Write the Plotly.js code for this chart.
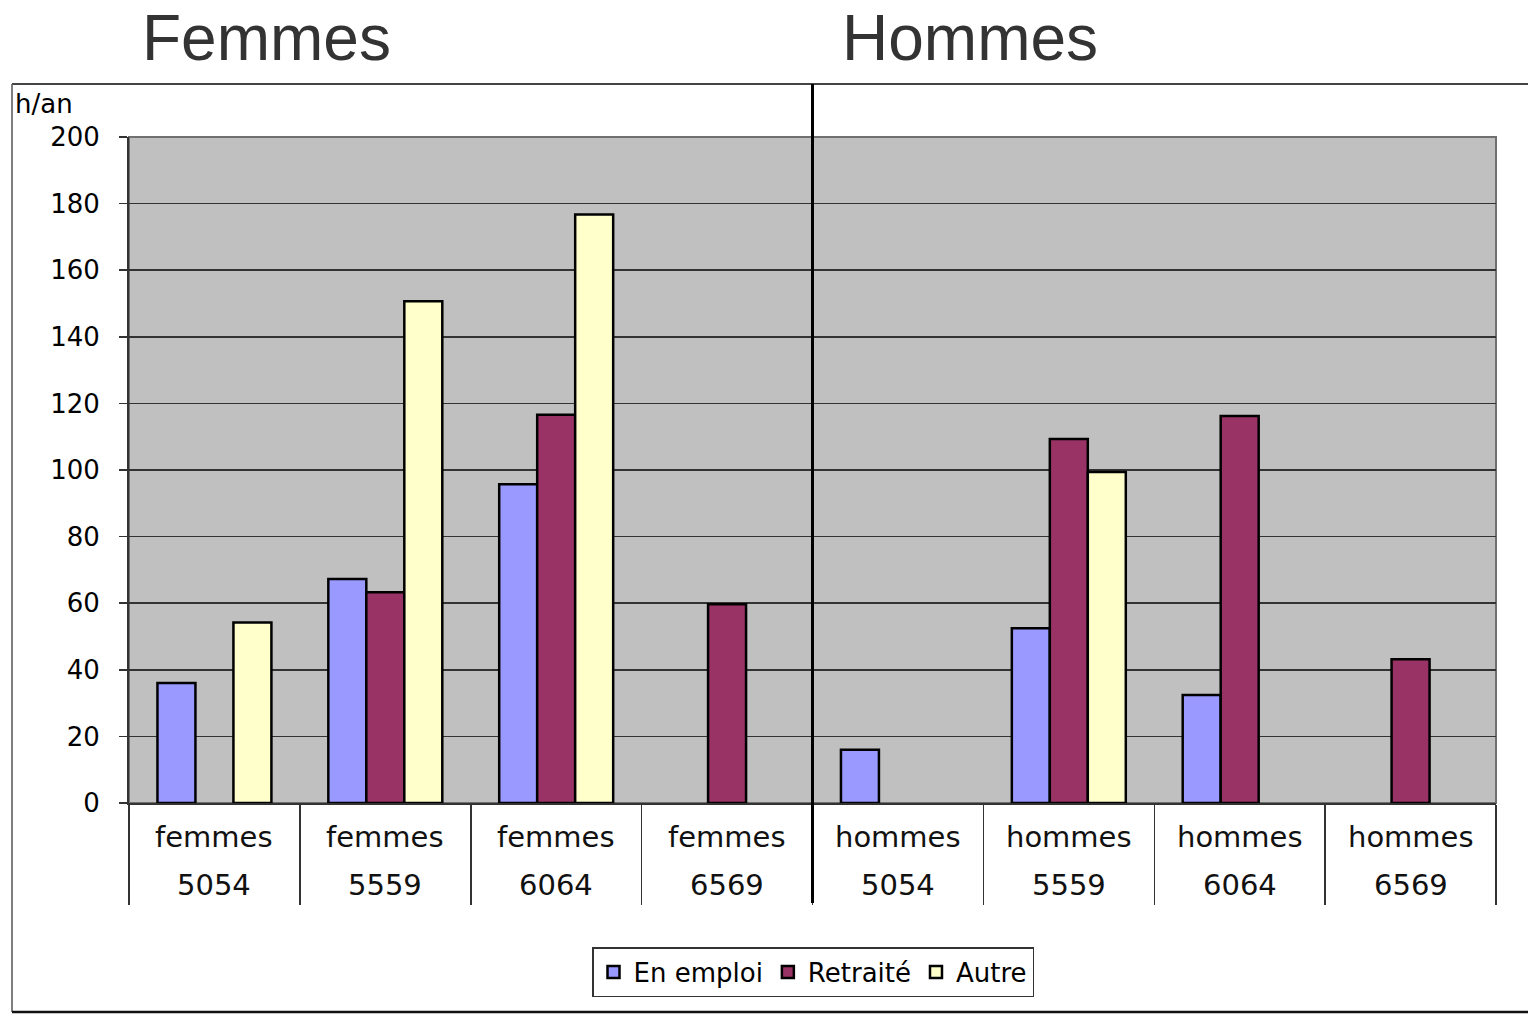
<!DOCTYPE html>
<html>
<head>
<meta charset="utf-8">
<script src="https://cdn.plot.ly/plotly-3.0.1.min.js"></script>
<style>html,body{margin:0;padding:0;background:#fff;}#chart{width:1528px;height:1016px;}</style>
</head>
<body>
<div id="chart"></div>
<script>
// ---- data ----
const groups = ['femmes','femmes','femmes','femmes','hommes','hommes','hommes','hommes'];
const ages = ['5054','5559','6064','6569','5054','5559','6064','6569'];
const enEmploi = [36, 67.3, 95.7, null, 16, 52.5, 32.4, null];
const retraite = [null, 63.3, 116.6, 59.7, null, 109.3, 116.2, 43.2];
const autre = [54.2, 150.7, 176.7, null, null, 99.4, null, null];
const seriesNames = ['En emploi', 'Retraité', 'Autre'];
const panelTitles = ['Femmes', 'Hommes'];
const yTicks = [0, 20, 40, 60, 80, 100, 120, 140, 160, 180, 200];
const yUnit = 'h/an';

// ---- build ----
const cats = groups.map((g, i) => g + ' ' + ages[i]);
const colors = ['#9999FF', '#993366', '#FFFFCC'];
const vals = [enEmploi, retraite, autre];

const traces = vals.map((v, k) => ({
  type: 'bar',
  name: seriesNames[k],
  x: cats,
  y: v,
  marker: {color: colors[k], line: {color: '#000', width: 2.5}},
  hoverinfo: 'x+y+name'
}));

// paper-coordinate helpers (plot area: x 129..1496, y 137..803)
const L = 129, R = 1496, T = 137, B = 803;
const px = x => (x - L) / (R - L);
const py = y => (B - y) / (B - T);

const annotations = [];
cats.forEach((c, i) => {
  annotations.push({x: c, xref: 'x', y: py(837), yref: 'paper', text: groups[i], showarrow: false,
    xanchor: 'center', yanchor: 'middle', font: {family: 'DejaVu Sans', size: 29, color: '#111'}});
  annotations.push({x: c, xref: 'x', y: py(885), yref: 'paper', text: ages[i], showarrow: false,
    xanchor: 'center', yanchor: 'middle', font: {family: 'DejaVu Sans', size: 29, color: '#111'}});
});
annotations.push({x: px(266), xref: 'paper', y: py(38), yref: 'paper', text: panelTitles[0], showarrow: false,
  xanchor: 'center', yanchor: 'middle', font: {family: 'Liberation Sans', size: 64, color: '#333'}});
annotations.push({x: px(970), xref: 'paper', y: py(38), yref: 'paper', text: panelTitles[1], showarrow: false,
  xanchor: 'center', yanchor: 'middle', font: {family: 'Liberation Sans', size: 64, color: '#333'}});
annotations.push({x: px(13), xref: 'paper', y: py(104), yref: 'paper', text: yUnit, showarrow: false,
  xanchor: 'left', yanchor: 'middle', font: {family: 'DejaVu Sans', size: 26, color: '#000'}});

const shapes = [
  // plot area border (top/right gray)
  {type: 'rect', xref: 'paper', yref: 'paper', x0: 0, x1: 1, y0: 0, y1: 1, line: {color: '#707070', width: 2}, layer: 'below'},
  // outer frame
  {type: 'line', xref: 'paper', yref: 'paper', x0: px(12), x1: px(1528), y0: py(84), y1: py(84), line: {color: '#444', width: 2}},
  {type: 'line', xref: 'paper', yref: 'paper', x0: px(12), x1: px(12), y0: py(84), y1: py(1012), line: {color: '#555', width: 1.5}},
  {type: 'line', xref: 'paper', yref: 'paper', x0: px(12), x1: px(1528), y0: py(1012), y1: py(1012), line: {color: '#111', width: 2.5}},
  // separator between Femmes and Hommes
  {type: 'line', xref: 'x', yref: 'paper', x0: 3.5, x1: 3.5, y0: py(903), y1: py(84), line: {color: '#000', width: 3}}
];

const layout = {
  width: 1528, height: 1016,
  margin: {l: L, r: 1528 - R, t: T, b: 1016 - B, pad: 0},
  paper_bgcolor: '#fff',
  plot_bgcolor: '#C0C0C0',
  font: {family: 'DejaVu Sans', color: '#000'},
  barmode: 'group',
  bargap: 0.333,
  bargroupgap: 0,
  showlegend: true,
  legend: {
    orientation: 'h', x: px(813), xanchor: 'center', y: py(972), yanchor: 'middle',
    bgcolor: '#fff', bordercolor: '#333', borderwidth: 1.5,
    font: {family: 'DejaVu Sans', size: 26, color: '#000'},
    itemwidth: 30, traceorder: 'normal'
  },
  xaxis: {
    type: 'category',
    showticklabels: false,
    ticks: 'outside', tickson: 'boundaries', ticklen: 100, tickwidth: 1.5, tickcolor: '#333',
    showline: true, linecolor: '#333', linewidth: 2,
    showgrid: false, zeroline: false, fixedrange: true
  },
  yaxis: {
    range: [0, 200], tickvals: yTicks, ticktext: yTicks.map(String),
    ticks: 'outside', ticklen: 8, tickwidth: 1.5, tickcolor: '#333',
    ticklabelstandoff: 14,
    tickfont: {family: 'DejaVu Sans', size: 26, color: '#000'},
    showline: true, linecolor: '#333', linewidth: 2,
    showgrid: true, gridcolor: '#333', gridwidth: 1.5,
    zeroline: false, fixedrange: true
  },
  annotations: annotations,
  shapes: shapes
};

Plotly.newPlot('chart', traces, layout, {displayModeBar: false, staticPlot: true});
</script>
</body>
</html>
